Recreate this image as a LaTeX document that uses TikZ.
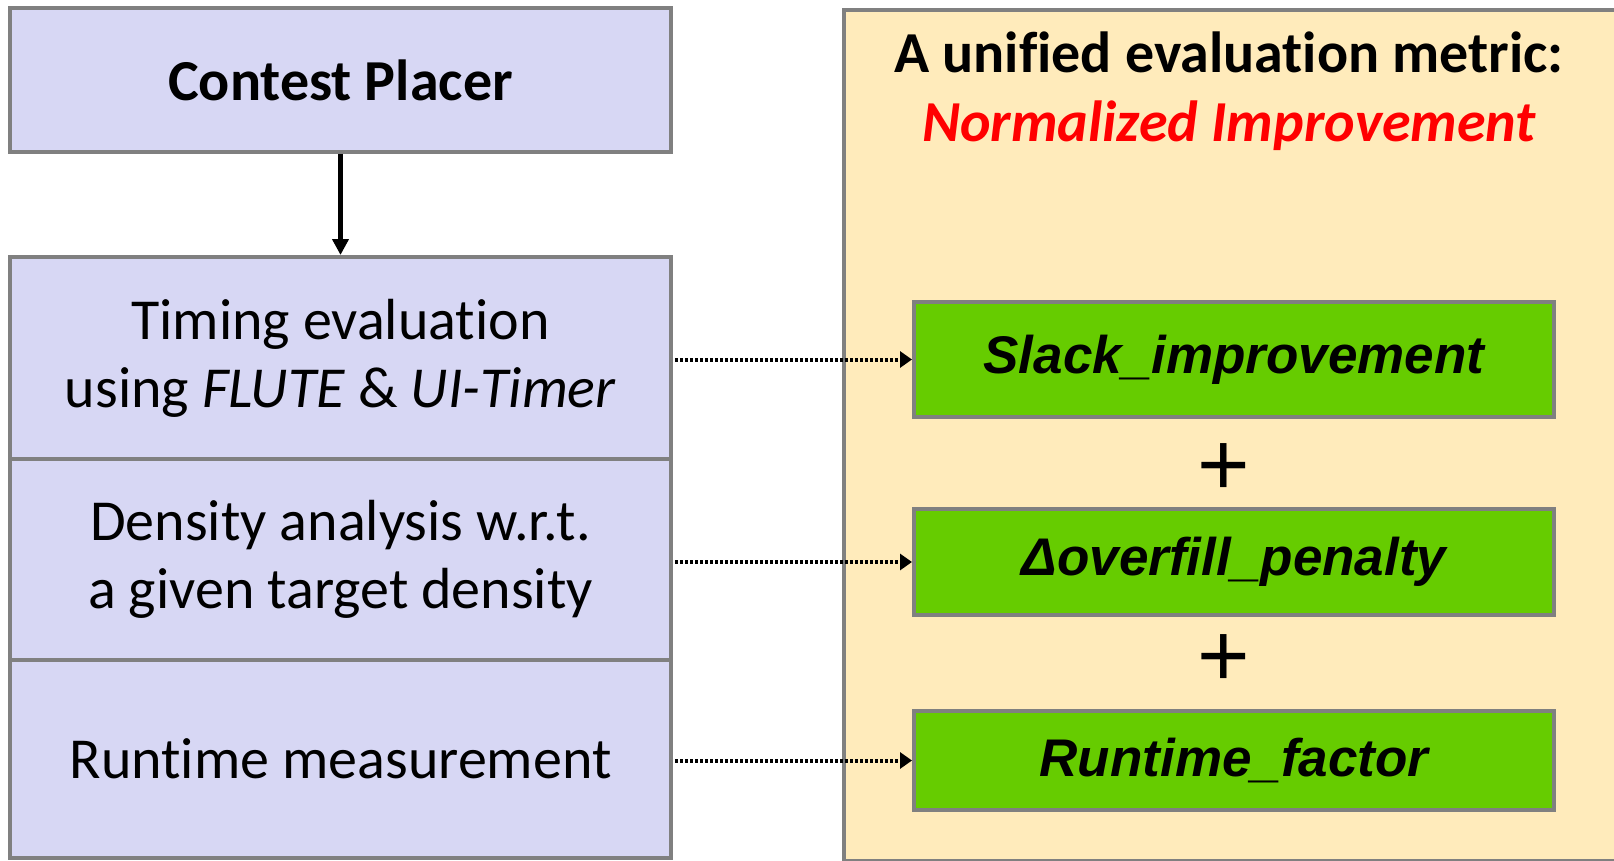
\documentclass[tikz,border=0pt]{standalone}
\usepackage{fontspec}
\setmainfont[Ligatures={NoCommon,NoContextual}]{Carlito}
\newfontfamily\arialf{Liberation Sans}
\usetikzlibrary{arrows.meta}
\definecolor{lav}{HTML}{D7D7F4}
\definecolor{yel}{HTML}{FFEBBB}
\definecolor{grn}{HTML}{66CC00}
\definecolor{bord}{HTML}{808080}
\definecolor{redt}{HTML}{FF0000}
\begin{document}
\begin{tikzpicture}[x=1pt,y=-1pt,
  lbox/.style={draw=bord, line width=4pt, fill=lav, minimum width=661pt, inner sep=0pt, align=center, font=\fontsize{58}{68}\selectfont},
  gbox/.style={draw=bord, line width=4pt, fill=grn, minimum width=640pt, inner sep=0pt, font=\arialf\bfseries\itshape\fontsize{53}{60}\selectfont},
  panel/.style={draw=bord, line width=4pt, fill=yel, inner sep=0pt, anchor=north west},
  plussign/.style={inner sep=0pt, font=\arialf\fontsize{90}{90}\selectfont},
  solidarr/.style={line width=4.5pt, -{Triangle[length=16pt,width=16pt]}},
  dotarr/.style={line width=4pt, dash pattern=on 3pt off 2pt, -{Triangle[length=12pt,width=16pt]}}
]
\useasboundingbox (0,0) rectangle (1614,861);
\clip (0,0) rectangle (1614,861);
% right panel
\node[panel, minimum width=800pt, minimum height=851pt] (metricbox) at (842,8) {};
\node[align=center, inner sep=0pt, font=\bfseries\fontsize{58}{69}\selectfont] (title) at (1229,91)
  {A unified evaluation metric:\\ \textcolor{redt}{\itshape Normalized Improvement}};
% left column
\node[lbox, minimum height=144pt] (placer) at (340.5,80) {\bfseries Contest Placer};
\node[lbox, minimum height=202pt] (timing) at (340.5,358) {Timing evaluation\\ using \textit{FLUTE} \& \textit{UI-Timer}};
\node[lbox, minimum height=201pt] (density) at (340.5,559.5) {Density analysis w.r.t.\\ a given target density};
\node[lbox, minimum height=198pt] (runtime) at (340.5,759) {Runtime measurement};
% green boxes
\node[gbox, minimum height=115pt] (slack) at (1234,359.5) {Slack\_improvement};
\node[gbox, minimum height=106pt] (overfill) at (1234,562) {Δoverfill\_penalty};
\node[gbox, minimum height=99pt] (rfactor) at (1234,760.5) {Runtime\_factor};
\node[plussign] (plusa) at (1224,470) {+};
\node[plussign] (plusb) at (1224,661) {+};
% connectors
\draw[solidarr] (placer.south) -- (timing.north);
\draw[dotarr] ([xshift=2pt]timing.east |- slack.west) -- (slack.west);
\draw[dotarr] ([xshift=2pt]density.east |- overfill.west) -- (overfill.west);
\draw[dotarr] ([xshift=2pt]runtime.east |- rfactor.west) -- (rfactor.west);
\end{tikzpicture}
\end{document}
